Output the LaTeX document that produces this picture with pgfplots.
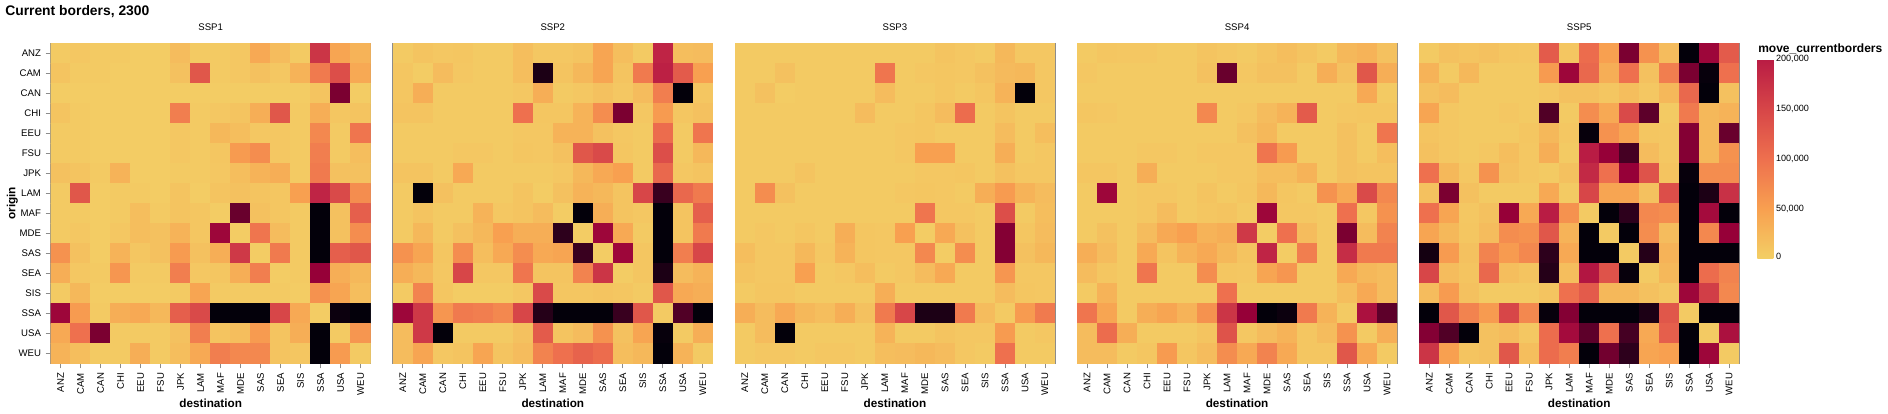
\documentclass[border=0pt]{standalone}
\usepackage{pgfplots}
\pgfplotsset{compat=1.18}
\usepackage{fontspec}
\setmainfont{Liberation Sans}
\newcommand\tlf{\fontsize{7.2}{8}\selectfont}
\newcommand\lblf{\fontsize{8.8}{10}\selectfont\bfseries}
\newcommand\cblf{\fontsize{6.8}{8}\selectfont}
\pgfplotsset{
  colormap={mc}{rgb255=(243,207,101) rgb255=(248,160,80) rgb255=(238,112,78) rgb255=(215,70,72) rgb255=(185,28,68) rgb255=(150,0,56) rgb255=(105,0,45) rgb255=(45,0,28) rgb255=(3,0,10)},
  colormap={mcbar}{rgb255=(243,207,101) rgb255=(248,160,80) rgb255=(238,112,78) rgb255=(215,70,72) rgb255=(185,28,68)},
  hm/.style={
    anchor=north west, scale only axis, width=240pt, height=240pt,
    xmin=-0.5, xmax=15.5, ymin=-0.5, ymax=15.5, y dir=reverse,
    xtick={0,...,15},
    xticklabels={ANZ,CAM,CAN,CHI,EEU,FSU,JPK,LAM,MAF,MDE,SAS,SEA,SIS,SSA,USA,WEU},
    tick align=outside, major tick length=3.75pt,
    xtick pos=left, ytick pos=left,
    tick style={black!45, line width=0.5pt},
    axis line style={black!45, line width=0.5pt},
    ticklabel style={font=\tlf},
    x tick label style={rotate=90, anchor=east},
    colormap name=mc, point meta min=0, point meta max=400,
  },
  hmplot/.style={matrix plot*, mesh/cols=16, point meta=explicit},
}
\begin{document}
\begin{tikzpicture}
\path[use as bounding box] (0,0) rectangle (1416pt,-310.5pt);
\node[anchor=base west, inner sep=0pt, font=\fontsize{10.4}{12}\selectfont\bfseries] at (3.75pt,-11.25pt) {Current borders, 2300};

% panel titles and axis titles
\node[anchor=base, inner sep=0pt, font=\tlf] at (158.0pt,-22.5pt) {SSP1};
\node[anchor=base, inner sep=0pt, font=\tlf] at (414.6pt,-22.5pt) {SSP2};
\node[anchor=base, inner sep=0pt, font=\tlf] at (671.2pt,-22.5pt) {SSP3};
\node[anchor=base, inner sep=0pt, font=\tlf] at (927.8pt,-22.5pt) {SSP4};
\node[anchor=base, inner sep=0pt, font=\tlf] at (1184.4pt,-22.5pt) {SSP5};
\node[anchor=base, inner sep=0pt, font=\lblf] at (158.0pt,-305.5pt) {destination};
\node[anchor=base, inner sep=0pt, font=\lblf] at (414.6pt,-305.5pt) {destination};
\node[anchor=base, inner sep=0pt, font=\lblf] at (671.2pt,-305.5pt) {destination};
\node[anchor=base, inner sep=0pt, font=\lblf] at (927.8pt,-305.5pt) {destination};
\node[anchor=base, inner sep=0pt, font=\lblf] at (1184.4pt,-305.5pt) {destination};
\node[rotate=90, anchor=base, inner sep=0pt, font=\lblf] at (11.5pt,-152.5pt) {origin};

% SSP1
\begin{axis}[hm, at={(38.0pt,-32.5pt)},
  ytick={0,...,15},
  yticklabels={ANZ,CAM,CAN,CHI,EEU,FSU,JPK,LAM,MAF,MDE,SAS,SEA,SIS,SSA,USA,WEU}]
\addplot[hmplot] coordinates {
(0,0)[5] (1,0)[8] (2,0)[5] (3,0)[5] (4,0)[3] (5,0)[3] (6,0)[20] (7,0)[5] (8,0)[5] (9,0)[8] (10,0)[40] (11,0)[20] (12,0)[5] (13,0)[170] (14,0)[45] (15,0)[30]
(0,1)[12] (1,1)[5] (2,1)[5] (3,1)[3] (4,1)[3] (5,1)[3] (6,1)[15] (7,1)[130] (8,1)[5] (9,1)[8] (10,1)[15] (11,1)[8] (12,1)[30] (13,1)[90] (14,1)[140] (15,1)[40]
(0,2)[3] (1,2)[3] (2,2)[3] (3,2)[3] (4,2)[3] (5,2)[3] (6,2)[3] (7,2)[3] (8,2)[3] (9,2)[3] (10,2)[3] (11,2)[3] (12,2)[3] (13,2)[12] (14,2)[280] (15,2)[3]
(0,3)[12] (1,3)[5] (2,3)[3] (3,3)[3] (4,3)[3] (5,3)[3] (6,3)[85] (7,3)[5] (8,3)[8] (9,3)[12] (10,3)[35] (11,3)[130] (12,3)[5] (13,3)[35] (14,3)[10] (15,3)[12]
(0,4)[5] (1,4)[5] (2,4)[3] (3,4)[3] (4,4)[3] (5,4)[3] (6,4)[8] (7,4)[5] (8,4)[25] (9,4)[18] (10,4)[8] (11,4)[8] (12,4)[5] (13,4)[75] (14,4)[5] (15,4)[95]
(0,5)[5] (1,5)[5] (2,5)[3] (3,5)[3] (4,5)[3] (5,5)[3] (6,5)[8] (7,5)[5] (8,5)[10] (9,5)[55] (10,5)[70] (11,5)[8] (12,5)[5] (13,5)[85] (14,5)[5] (15,5)[18]
(0,6)[15] (1,6)[12] (2,6)[5] (3,6)[30] (4,6)[3] (5,6)[3] (6,6)[5] (7,6)[5] (8,6)[8] (9,6)[18] (10,6)[30] (11,6)[35] (12,6)[5] (13,6)[90] (14,6)[15] (15,6)[15]
(0,7)[5] (1,7)[130] (2,7)[3] (3,7)[5] (4,7)[5] (5,7)[3] (6,7)[12] (7,7)[3] (8,7)[12] (9,7)[15] (10,7)[12] (11,7)[10] (12,7)[50] (13,7)[190] (14,7)[145] (15,7)[70]
(0,8)[5] (1,8)[5] (2,8)[3] (3,8)[5] (4,8)[18] (5,8)[5] (6,8)[12] (7,8)[10] (8,8)[3] (9,8)[300] (10,8)[15] (11,8)[10] (12,8)[5] (13,8)[400] (14,8)[15] (15,8)[120]
(0,9)[5] (1,9)[8] (2,9)[3] (3,9)[8] (4,9)[18] (5,9)[15] (6,9)[30] (7,9)[10] (8,9)[240] (9,9)[3] (10,9)[95] (11,9)[20] (12,9)[5] (13,9)[400] (14,9)[15] (15,9)[70]
(0,10)[65] (1,10)[15] (2,10)[3] (3,10)[30] (4,10)[10] (5,10)[15] (6,10)[55] (7,10)[15] (8,10)[35] (9,10)[165] (10,10)[3] (11,10)[90] (12,10)[5] (13,10)[400] (14,10)[120] (15,10)[130]
(0,11)[35] (1,11)[8] (2,11)[5] (3,11)[60] (4,11)[5] (5,11)[5] (6,11)[85] (7,11)[8] (8,11)[10] (9,11)[35] (10,11)[85] (11,11)[3] (12,11)[5] (13,11)[250] (14,11)[35] (15,11)[25]
(0,12)[5] (1,12)[25] (2,12)[3] (3,12)[3] (4,12)[3] (5,12)[3] (6,12)[5] (7,12)[45] (8,12)[5] (9,12)[5] (10,12)[5] (11,12)[5] (12,12)[3] (13,12)[65] (14,12)[45] (15,12)[18]
(0,13)[240] (1,13)[55] (2,13)[5] (3,13)[35] (4,13)[40] (5,13)[25] (6,13)[120] (7,13)[145] (8,13)[400] (9,13)[400] (10,13)[400] (11,13)[150] (12,13)[40] (13,13)[3] (14,13)[390] (15,13)[400]
(0,14)[40] (1,14)[100] (2,14)[280] (3,14)[5] (4,14)[5] (5,14)[5] (6,14)[15] (7,14)[85] (8,14)[12] (9,14)[18] (10,14)[55] (11,14)[12] (12,14)[35] (13,14)[400] (14,14)[5] (15,14)[60]
(0,15)[30] (1,15)[18] (2,15)[5] (3,15)[5] (4,15)[35] (5,15)[5] (6,15)[18] (7,15)[40] (8,15)[85] (9,15)[75] (10,15)[75] (11,15)[12] (12,15)[10] (13,15)[400] (14,15)[55] (15,15)[5]
};
\end{axis}

% SSP2
\begin{axis}[hm, at={(294.6pt,-32.5pt)}, ytick=\empty]
\addplot[hmplot] coordinates {
(0,0)[5] (1,0)[12] (2,0)[8] (3,0)[10] (4,0)[5] (5,0)[5] (6,0)[18] (7,0)[8] (8,0)[8] (9,0)[12] (10,0)[45] (11,0)[18] (12,0)[5] (13,0)[190] (14,0)[18] (15,0)[20]
(0,1)[10] (1,1)[3] (2,1)[20] (3,1)[8] (4,1)[5] (5,1)[5] (6,1)[18] (7,1)[370] (8,1)[12] (9,1)[25] (10,1)[45] (11,1)[12] (12,1)[90] (13,1)[195] (14,1)[125] (15,1)[50]
(0,2)[10] (1,2)[35] (2,2)[5] (3,2)[5] (4,2)[5] (5,2)[5] (6,2)[8] (7,2)[35] (8,2)[5] (9,2)[8] (10,2)[15] (11,2)[8] (12,2)[20] (13,2)[85] (14,2)[400] (15,2)[10]
(0,3)[12] (1,3)[12] (2,3)[5] (3,3)[5] (4,3)[5] (5,3)[5] (6,3)[100] (7,3)[10] (8,3)[10] (9,3)[30] (10,3)[70] (11,3)[280] (12,3)[8] (13,3)[55] (14,3)[10] (15,3)[15]
(0,4)[5] (1,4)[5] (2,4)[5] (3,4)[5] (4,4)[5] (5,4)[5] (6,4)[8] (7,4)[8] (8,4)[30] (9,4)[30] (10,4)[15] (11,4)[8] (12,4)[5] (13,4)[105] (14,4)[5] (15,4)[95]
(0,5)[5] (1,5)[5] (2,5)[5] (3,5)[8] (4,5)[8] (5,5)[5] (6,5)[10] (7,5)[8] (8,5)[15] (9,5)[130] (10,5)[145] (11,5)[10] (12,5)[5] (13,5)[140] (14,5)[5] (15,5)[25]
(0,6)[12] (1,6)[12] (2,6)[5] (3,6)[40] (4,6)[5] (5,6)[5] (6,6)[5] (7,6)[5] (8,6)[8] (9,6)[25] (10,6)[40] (11,6)[50] (12,6)[5] (13,6)[110] (14,6)[8] (15,6)[12]
(0,7)[5] (1,7)[400] (2,7)[15] (3,7)[5] (4,7)[5] (5,7)[5] (6,7)[12] (7,7)[3] (8,7)[15] (9,7)[30] (10,7)[25] (11,7)[12] (12,7)[150] (13,7)[340] (14,7)[110] (15,7)[90]
(0,8)[5] (1,8)[12] (2,8)[5] (3,8)[5] (4,8)[30] (5,8)[8] (6,8)[12] (7,8)[20] (8,8)[3] (9,8)[400] (10,8)[35] (11,8)[12] (12,8)[8] (13,8)[400] (14,8)[12] (15,8)[120]
(0,9)[5] (1,9)[25] (2,9)[5] (3,9)[15] (4,9)[25] (5,9)[50] (6,9)[35] (7,9)[35] (8,9)[350] (9,9)[3] (10,9)[240] (11,9)[40] (12,9)[5] (13,9)[400] (14,9)[12] (15,9)[90]
(0,10)[65] (1,10)[45] (2,10)[10] (3,10)[70] (4,10)[18] (5,10)[40] (6,10)[70] (7,10)[40] (8,10)[45] (9,10)[340] (10,10)[3] (11,10)[240] (12,10)[10] (13,10)[400] (14,10)[85] (15,10)[150]
(0,11)[35] (1,11)[25] (2,11)[8] (3,11)[150] (4,11)[8] (5,11)[8] (6,11)[95] (7,11)[12] (8,11)[12] (9,11)[80] (10,11)[170] (11,11)[3] (12,11)[10] (13,11)[370] (14,11)[20] (15,11)[30]
(0,12)[5] (1,12)[80] (2,12)[10] (3,12)[3] (4,12)[3] (5,12)[3] (6,12)[8] (7,12)[145] (8,12)[10] (9,12)[10] (10,12)[12] (11,12)[10] (12,12)[5] (13,12)[130] (14,12)[40] (15,12)[35]
(0,13)[240] (1,13)[165] (2,13)[60] (3,13)[90] (4,13)[85] (5,13)[75] (6,13)[150] (7,13)[360] (8,13)[400] (9,13)[400] (10,13)[400] (11,13)[340] (12,13)[130] (13,13)[5] (14,13)[320] (15,13)[400]
(0,14)[20] (1,14)[165] (2,14)[400] (3,14)[5] (4,14)[5] (5,14)[5] (6,14)[15] (7,14)[125] (8,14)[12] (9,14)[20] (10,14)[65] (11,14)[15] (12,14)[45] (13,14)[395] (14,14)[5] (15,14)[35]
(0,15)[20] (1,15)[45] (2,15)[8] (3,15)[12] (4,15)[45] (5,15)[12] (6,15)[20] (7,15)[80] (8,15)[100] (9,15)[115] (10,15)[105] (11,15)[18] (12,15)[25] (13,15)[400] (14,15)[30] (15,15)[5]
};
\end{axis}

% SSP3
\begin{axis}[hm, at={(551.2pt,-32.5pt)}, ytick=\empty]
\addplot[hmplot] coordinates {
(0,0)[5] (1,0)[5] (2,0)[5] (3,0)[5] (4,0)[5] (5,0)[5] (6,0)[5] (7,0)[5] (8,0)[5] (9,0)[5] (10,0)[12] (11,0)[8] (12,0)[5] (13,0)[25] (14,0)[8] (15,0)[8]
(0,1)[5] (1,1)[5] (2,1)[15] (3,1)[5] (4,1)[5] (5,1)[5] (6,1)[5] (7,1)[95] (8,1)[5] (9,1)[8] (10,1)[10] (11,1)[8] (12,1)[15] (13,1)[22] (14,1)[25] (15,1)[8]
(0,2)[5] (1,2)[15] (2,2)[3] (3,2)[5] (4,2)[5] (5,2)[5] (6,2)[5] (7,2)[20] (8,2)[5] (9,2)[5] (10,2)[10] (11,2)[5] (12,2)[10] (13,2)[30] (14,2)[400] (15,2)[8]
(0,3)[5] (1,3)[5] (2,3)[5] (3,3)[5] (4,3)[5] (5,3)[5] (6,3)[20] (7,3)[5] (8,3)[5] (9,3)[10] (10,3)[20] (11,3)[105] (12,3)[5] (13,3)[12] (14,3)[5] (15,3)[5]
(0,4)[5] (1,4)[5] (2,4)[5] (3,4)[5] (4,4)[5] (5,4)[5] (6,4)[5] (7,4)[5] (8,4)[8] (9,4)[10] (10,4)[5] (11,4)[5] (12,4)[5] (13,4)[20] (14,4)[5] (15,4)[18]
(0,5)[5] (1,5)[5] (2,5)[5] (3,5)[5] (4,5)[5] (5,5)[5] (6,5)[5] (7,5)[5] (8,5)[8] (9,5)[50] (10,5)[50] (11,5)[5] (12,5)[5] (13,5)[35] (14,5)[5] (15,5)[8]
(0,6)[5] (1,6)[5] (2,6)[5] (3,6)[12] (4,6)[5] (5,6)[5] (6,6)[5] (7,6)[5] (8,6)[5] (9,6)[8] (10,6)[8] (11,6)[10] (12,6)[5] (13,6)[15] (14,6)[8] (15,6)[8]
(0,7)[5] (1,7)[70] (2,7)[15] (3,7)[5] (4,7)[5] (5,7)[5] (6,7)[5] (7,7)[5] (8,7)[8] (9,7)[10] (10,7)[8] (11,7)[5] (12,7)[35] (13,7)[55] (14,7)[30] (15,7)[20]
(0,8)[5] (1,8)[5] (2,8)[5] (3,8)[5] (4,8)[5] (5,8)[5] (6,8)[5] (7,8)[5] (8,8)[5] (9,8)[95] (10,8)[8] (11,8)[8] (12,8)[5] (13,8)[140] (14,8)[5] (15,8)[18]
(0,9)[5] (1,9)[8] (2,9)[5] (3,9)[10] (4,9)[5] (5,9)[35] (6,9)[10] (7,9)[8] (8,9)[50] (9,9)[3] (10,9)[40] (11,9)[15] (12,9)[5] (13,9)[270] (14,9)[10] (15,9)[20]
(0,10)[18] (1,10)[8] (2,10)[8] (3,10)[25] (4,10)[8] (5,10)[30] (6,10)[10] (7,10)[8] (8,10)[8] (9,10)[75] (10,10)[3] (11,10)[70] (12,10)[5] (13,10)[270] (14,10)[15] (15,10)[25]
(0,11)[12] (1,11)[8] (2,11)[8] (3,11)[50] (4,11)[5] (5,11)[8] (6,11)[18] (7,11)[5] (8,11)[8] (9,11)[20] (10,11)[40] (11,11)[5] (12,11)[5] (13,11)[60] (14,11)[8] (15,11)[8]
(0,12)[5] (1,12)[10] (2,12)[10] (3,12)[5] (4,12)[5] (5,12)[5] (6,12)[5] (7,12)[35] (8,12)[5] (9,12)[5] (10,12)[5] (11,12)[5] (12,12)[5] (13,12)[20] (14,12)[10] (15,12)[8]
(0,13)[35] (1,13)[20] (2,13)[40] (3,13)[25] (4,13)[18] (5,13)[35] (6,13)[15] (7,13)[90] (8,13)[150] (9,13)[370] (10,13)[370] (11,13)[90] (12,13)[20] (13,13)[5] (14,13)[55] (15,13)[90]
(0,14)[5] (1,14)[20] (2,14)[400] (3,14)[5] (4,14)[5] (5,14)[5] (6,14)[5] (7,14)[30] (8,14)[5] (9,14)[5] (10,14)[12] (11,14)[8] (12,14)[8] (13,14)[55] (14,14)[5] (15,14)[8]
(0,15)[5] (1,15)[8] (2,15)[8] (3,15)[5] (4,15)[8] (5,15)[8] (6,15)[5] (7,15)[18] (8,15)[20] (9,15)[25] (10,15)[20] (11,15)[8] (12,15)[5] (13,15)[100] (14,15)[5] (15,15)[5]
};
\end{axis}

% SSP4
\begin{axis}[hm, at={(807.8pt,-32.5pt)}, ytick=\empty]
\addplot[hmplot] coordinates {
(0,0)[5] (1,0)[10] (2,0)[8] (3,0)[8] (4,0)[5] (5,0)[5] (6,0)[12] (7,0)[8] (8,0)[5] (9,0)[12] (10,0)[18] (11,0)[12] (12,0)[5] (13,0)[25] (14,0)[30] (15,0)[15]
(0,1)[8] (1,1)[5] (2,1)[5] (3,1)[5] (4,1)[5] (5,1)[5] (6,1)[15] (7,1)[300] (8,1)[8] (9,1)[15] (10,1)[15] (11,1)[5] (12,1)[35] (13,1)[15] (14,1)[130] (15,1)[35]
(0,2)[5] (1,2)[5] (2,2)[5] (3,2)[5] (4,2)[5] (5,2)[5] (6,2)[5] (7,2)[5] (8,2)[5] (9,2)[5] (10,2)[5] (11,2)[5] (12,2)[5] (13,2)[5] (14,2)[40] (15,2)[5]
(0,3)[10] (1,3)[8] (2,3)[5] (3,3)[5] (4,3)[5] (5,3)[5] (6,3)[75] (7,3)[5] (8,3)[8] (9,3)[20] (10,3)[30] (11,3)[125] (12,3)[5] (13,3)[8] (14,3)[10] (15,3)[10]
(0,4)[5] (1,4)[5] (2,4)[5] (3,4)[5] (4,4)[5] (5,4)[5] (6,4)[5] (7,4)[5] (8,4)[15] (9,4)[25] (10,4)[5] (11,4)[5] (12,4)[5] (13,4)[15] (14,4)[5] (15,4)[95]
(0,5)[5] (1,5)[5] (2,5)[5] (3,5)[8] (4,5)[8] (5,5)[5] (6,5)[8] (7,5)[8] (8,5)[8] (9,5)[95] (10,5)[55] (11,5)[5] (12,5)[5] (13,5)[15] (14,5)[5] (15,5)[18]
(0,6)[10] (1,6)[10] (2,6)[5] (3,6)[35] (4,6)[5] (5,6)[5] (6,6)[5] (7,6)[8] (8,6)[8] (9,6)[18] (10,6)[18] (11,6)[30] (12,6)[5] (13,6)[15] (14,6)[12] (15,6)[12]
(0,7)[5] (1,7)[240] (2,7)[5] (3,7)[8] (4,7)[8] (5,7)[5] (6,7)[12] (7,7)[5] (8,7)[10] (9,7)[25] (10,7)[10] (11,7)[5] (12,7)[65] (13,7)[40] (14,7)[145] (15,7)[75]
(0,8)[5] (1,8)[5] (2,8)[5] (3,8)[8] (4,8)[20] (5,8)[5] (6,8)[10] (7,8)[12] (8,8)[5] (9,8)[240] (10,8)[8] (11,8)[8] (12,8)[5] (13,8)[100] (14,8)[8] (15,8)[65]
(0,9)[5] (1,9)[15] (2,9)[5] (3,9)[20] (4,9)[40] (5,9)[50] (6,9)[30] (7,9)[35] (8,9)[165] (9,9)[3] (10,9)[100] (11,9)[20] (12,9)[5] (13,9)[280] (14,9)[20] (15,9)[80]
(0,10)[35] (1,10)[20] (2,10)[5] (3,10)[40] (4,10)[12] (5,10)[30] (6,10)[40] (7,10)[25] (8,10)[12] (9,10)[190] (10,10)[3] (11,10)[85] (12,10)[5] (13,10)[180] (14,10)[90] (15,10)[90]
(0,11)[20] (1,11)[10] (2,11)[5] (3,11)[95] (4,11)[5] (5,11)[5] (6,11)[70] (7,11)[10] (8,11)[8] (9,11)[45] (10,11)[60] (11,11)[5] (12,11)[5] (13,11)[40] (14,11)[25] (15,11)[20]
(0,12)[5] (1,12)[30] (2,12)[5] (3,12)[5] (4,12)[5] (5,12)[5] (6,12)[5] (7,12)[100] (8,12)[5] (9,12)[5] (10,12)[5] (11,12)[5] (12,12)[5] (13,12)[18] (14,12)[40] (15,12)[20]
(0,13)[95] (1,13)[45] (2,13)[5] (3,13)[35] (4,13)[45] (5,13)[30] (6,13)[65] (7,13)[170] (8,13)[250] (9,13)[400] (10,13)[390] (11,13)[90] (12,13)[30] (13,13)[5] (14,13)[220] (15,13)[310]
(0,14)[20] (1,14)[105] (2,14)[35] (3,14)[5] (4,14)[5] (5,14)[5] (6,14)[12] (7,14)[135] (8,14)[8] (9,14)[20] (10,14)[30] (11,14)[10] (12,14)[20] (13,14)[65] (14,14)[5] (15,14)[35]
(0,15)[20] (1,15)[20] (2,15)[5] (3,15)[10] (4,15)[55] (5,15)[10] (6,15)[20] (7,15)[70] (8,15)[40] (9,15)[80] (10,15)[40] (11,15)[10] (12,15)[10] (13,15)[130] (14,15)[40] (15,15)[5]
};
\end{axis}

% SSP5
\begin{axis}[hm, at={(1064.4pt,-32.5pt)}, ytick=\empty]
\addplot[hmplot] coordinates {
(0,0)[5] (1,0)[15] (2,0)[12] (3,0)[15] (4,0)[10] (5,0)[8] (6,0)[125] (7,0)[10] (8,0)[105] (9,0)[50] (10,0)[280] (11,0)[65] (12,0)[20] (13,0)[400] (14,0)[240] (15,0)[125]
(0,1)[30] (1,1)[5] (2,1)[25] (3,1)[5] (4,1)[5] (5,1)[5] (6,1)[55] (7,1)[240] (8,1)[110] (9,1)[35] (10,1)[100] (11,1)[15] (12,1)[85] (13,1)[280] (14,1)[395] (15,1)[100]
(0,2)[15] (1,2)[20] (2,2)[5] (3,2)[5] (4,2)[5] (5,2)[5] (6,2)[8] (7,2)[15] (8,2)[15] (9,2)[10] (10,2)[18] (11,2)[8] (12,2)[25] (13,2)[110] (14,2)[400] (15,2)[15]
(0,3)[45] (1,3)[8] (2,3)[5] (3,3)[5] (4,3)[8] (5,3)[5] (6,3)[320] (7,3)[5] (8,3)[70] (9,3)[40] (10,3)[145] (11,3)[310] (12,3)[5] (13,3)[90] (14,3)[25] (15,3)[30]
(0,4)[12] (1,4)[8] (2,4)[5] (3,4)[5] (4,4)[5] (5,4)[10] (6,4)[25] (7,4)[8] (8,4)[395] (9,4)[65] (10,4)[45] (11,4)[10] (12,4)[8] (13,4)[270] (14,4)[25] (15,4)[300]
(0,5)[15] (1,5)[8] (2,5)[5] (3,5)[8] (4,5)[18] (5,5)[8] (6,5)[35] (7,5)[5] (8,5)[200] (9,5)[250] (10,5)[330] (11,5)[20] (12,5)[8] (13,5)[270] (14,5)[25] (15,5)[65]
(0,6)[100] (1,6)[25] (2,6)[8] (3,6)[65] (4,6)[15] (5,6)[8] (6,6)[5] (7,6)[15] (8,6)[185] (9,6)[100] (10,6)[250] (11,6)[135] (12,6)[12] (13,6)[395] (14,6)[70] (15,6)[70]
(0,7)[15] (1,7)[280] (2,7)[15] (3,7)[5] (4,7)[5] (5,7)[5] (6,7)[40] (7,7)[5] (8,7)[150] (9,7)[45] (10,7)[45] (11,7)[15] (12,7)[140] (13,7)[400] (14,7)[370] (15,7)[175]
(0,8)[100] (1,8)[45] (2,8)[8] (3,8)[15] (4,8)[250] (5,8)[40] (6,8)[200] (7,8)[65] (8,8)[5] (9,8)[400] (10,8)[350] (11,8)[75] (12,8)[70] (13,8)[400] (14,8)[230] (15,8)[400]
(0,9)[45] (1,9)[25] (2,9)[10] (3,9)[20] (4,9)[70] (5,9)[65] (6,9)[130] (7,9)[30] (8,9)[400] (9,9)[5] (10,9)[400] (11,9)[70] (12,9)[20] (13,9)[400] (14,9)[75] (15,9)[250]
(0,10)[380] (1,10)[55] (2,10)[15] (3,10)[80] (4,10)[55] (5,10)[75] (6,10)[350] (7,10)[40] (8,10)[400] (9,10)[400] (10,10)[5] (11,10)[360] (12,10)[30] (13,10)[400] (14,10)[400] (15,10)[400]
(0,11)[150] (1,11)[20] (2,11)[12] (3,11)[110] (4,11)[18] (5,11)[12] (6,11)[360] (7,11)[18] (8,11)[210] (9,11)[135] (10,11)[395] (11,11)[5] (12,11)[25] (13,11)[400] (14,11)[105] (15,11)[80]
(0,12)[20] (1,12)[55] (2,12)[15] (3,12)[5] (4,12)[5] (5,12)[5] (6,12)[12] (7,12)[100] (8,12)[125] (9,12)[25] (10,12)[25] (11,12)[15] (12,12)[8] (13,12)[240] (14,12)[160] (15,12)[75]
(0,13)[400] (1,13)[130] (2,13)[80] (3,13)[55] (4,13)[150] (5,13)[75] (6,13)[395] (7,13)[270] (8,13)[400] (9,13)[400] (10,13)[400] (11,13)[370] (12,13)[130] (13,13)[5] (14,13)[400] (15,13)[400]
(0,14)[270] (1,14)[320] (2,14)[400] (3,14)[15] (4,14)[20] (5,14)[8] (6,14)[105] (7,14)[230] (8,14)[310] (9,14)[100] (10,14)[330] (11,14)[40] (12,14)[120] (13,14)[400] (14,14)[5] (15,14)[220]
(0,15)[170] (1,15)[50] (2,15)[12] (3,15)[15] (4,15)[130] (5,15)[18] (6,15)[105] (7,15)[85] (8,15)[400] (9,15)[290] (10,15)[350] (11,15)[45] (12,15)[50] (13,15)[400] (14,15)[240] (15,15)[5]
};
\end{axis}

% colour legend
\node[anchor=base west, inner sep=0pt, font=\fontsize{9}{10}\selectfont\bfseries] at (1318.5pt,-39pt) {move\_currentborders};
\begin{axis}[at={(1306.5pt,-44.5pt)}, anchor=north west, hide axis, scale only axis,
  width=12pt, height=149.5pt, xmin=0, xmax=1, ymin=0, ymax=1,
  colormap name=mcbar, point meta min=0, point meta max=200000,
  colorbar,
  colorbar style={xshift=3pt,
    width=12pt, height=149.5pt,
    ytick={0,50000,100000,150000,200000},
    yticklabels={\raisebox{3.5pt}{0},{50,000},{100,000},{150,000},\raisebox{-3pt}{200,000}},
    scaled y ticks=false, major tick length=0pt,
    axis line style={draw=none},
    yticklabel style={font=\cblf, anchor=west, xshift=-1.5pt}}]
\addplot[draw=none] coordinates {(0,0)};
\end{axis}
\end{tikzpicture}
\end{document}
